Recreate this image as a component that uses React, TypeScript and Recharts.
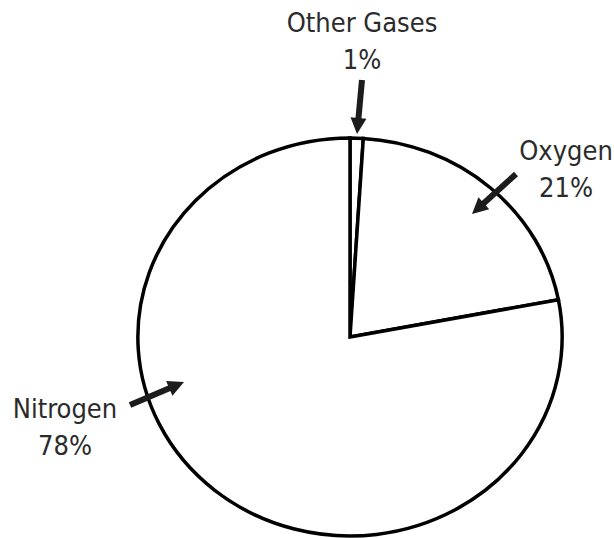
import { PieChart, Pie } from "recharts";

// slices, clockwise from 12 o'clock
const gases = ["Other Gases", "Oxygen", "Nitrogen"];
const shares = [1, 21, 78];

const data = gases.map((name, i) => ({ name, value: shares[i] }));

const W = 614;
const H = 538;
const CX = 350;
const CY = 337;
const R = 199;
const STRETCH_X = 1.066; // the drawing is a little wider than tall

const FONT = "'DejaVu Sans Condensed', 'DejaVu Sans', sans-serif";
const TEXT = "#2b2b2b";
const INK = "#1c1c1c";

// where each callout sits (label anchor + arrow tail/tip)
const callouts = [
  { x: 362, y: 32, tail: [362, 80], tip: [357, 134] },
  { x: 566, y: 160, tail: [516, 174], tip: [472, 214] },
  { x: 65, y: 418, tail: [130, 405], tip: [184, 382] },
];

function EllipseSector(props: any) {
  const { cx, cy, outerRadius, startAngle, endAngle } = props;
  const rx = outerRadius * STRETCH_X;
  const ry = outerRadius;
  const rad = Math.PI / 180;
  const x0 = cx + rx * Math.cos(startAngle * rad);
  const y0 = cy - ry * Math.sin(startAngle * rad);
  const x1 = cx + rx * Math.cos(endAngle * rad);
  const y1 = cy - ry * Math.sin(endAngle * rad);
  const large = Math.abs(startAngle - endAngle) > 180 ? 1 : 0;
  const sweep = startAngle > endAngle ? 1 : 0;
  return (
    <path
      d={`M${cx},${cy} L${x0},${y0} A${rx},${ry} 0 ${large} ${sweep} ${x1},${y1} Z`}
      fill="#fff"
      stroke="#000"
      strokeWidth={3.5}
      strokeLinejoin="miter"
    />
  );
}

function Arrow({ tail, tip }: { tail: number[]; tip: number[] }) {
  const dx = tip[0] - tail[0];
  const dy = tip[1] - tail[1];
  const len = Math.hypot(dx, dy);
  const ux = dx / len;
  const uy = dy / len;
  const head = 16;
  const half = 8;
  const bx = tip[0] - ux * head;
  const by = tip[1] - uy * head;
  return (
    <g>
      <line x1={tail[0]} y1={tail[1]} x2={bx + ux * 2} y2={by + uy * 2} stroke={INK} strokeWidth={6} />
      <polygon
        points={`${tip[0]},${tip[1]} ${bx - uy * half},${by + ux * half} ${bx + uy * half},${by - ux * half}`}
        fill={INK}
      />
    </g>
  );
}

function renderLabel(props: any) {
  const { index, name, value } = props;
  const c = callouts[index];
  return (
    <g key={`lbl-${index}`}>
      <text x={c.x} y={c.y} textAnchor="middle" fill={TEXT} fontSize={27} fontFamily={FONT} style={{ fontStretch: "condensed" }}>
        {name}
      </text>
      <text x={c.x} y={c.y + 37} textAnchor="middle" fill={TEXT} fontSize={27} fontFamily={FONT} style={{ fontStretch: "condensed" }}>
        {`${value}%`}
      </text>
      <Arrow tail={c.tail} tip={c.tip} />
    </g>
  );
}

export default function App() {
  return (
    <div style={{ position: "fixed", left: 0, top: 0, width: W, height: H, background: "#fff" }}>
      <PieChart width={W} height={H} margin={{ top: 0, right: 0, bottom: 0, left: 0 }}>
        <Pie
          data={data}
          dataKey="value"
          nameKey="name"
          cx={CX}
          cy={CY}
          outerRadius={R}
          startAngle={90}
          endAngle={-270}
          stroke="#000"
          strokeWidth={3.5}
          fill="#fff"
          shape={EllipseSector}
          activeShape={EllipseSector}
          label={renderLabel}
          labelLine={false}
          isAnimationActive={false}
        />
      </PieChart>
    </div>
  );
}
